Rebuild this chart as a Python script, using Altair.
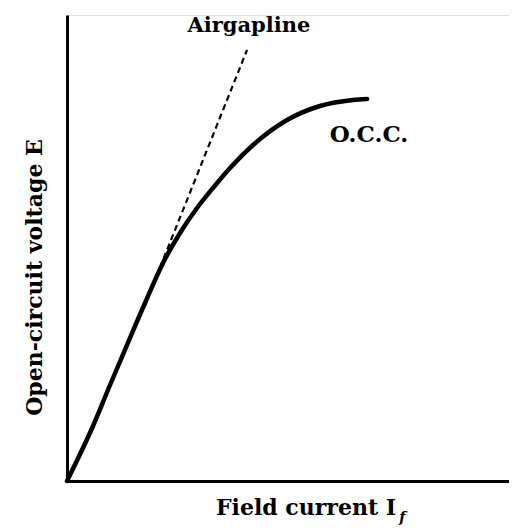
import altair as alt
import pandas as pd

# O.C.C. curve (field current vs open-circuit voltage, arbitrary units)
occ_x = [0, 5.78, 9.56, 13.33, 17.33, 21.33, 25.11, 28.89, 32.44, 36.22, 41.33, 48.89, 56.22, 63.56, 66.67]
occ_y = [0, 11.80, 20.60, 29.18, 38.20, 46.78, 53.22, 58.58, 62.88, 67.17, 72.10, 77.47, 80.47, 81.76, 81.97]

# Air-gap line (tangent to the initial part of the curve)
air_x = [17.33, 40.0]
air_y = [37.77, 92.49]

# Annotations
label_text = ["Airgapline", "O.C.C."]
label_x = [40.4, 58.4]
label_y = [96.35, 72.75]

occ = pd.DataFrame({"x": occ_x, "y": occ_y})
air = pd.DataFrame({"x": air_x, "y": air_y})
labels = pd.DataFrame({"t": label_text, "x": label_x, "y": label_y})
sub = pd.DataFrame({"t": ["f"], "x": [73.8], "y": [-7.9]})

FONT = "DejaVu Serif"

xs = alt.Scale(domain=[0, 98.2], nice=False, zero=False)
ys = alt.Scale(domain=[0, 100], nice=False, zero=False)

xaxis = alt.Axis(ticks=False, labels=False, grid=False, domainColor="black",
                 domainWidth=3, title="Field current I", titleFont=FONT,
                 titleFontSize=22, titleFontWeight="bold", titleColor="black",
                 titleX=238.5, titleY=33, titleBaseline="alphabetic", titleAlign="center")
yaxis = alt.Axis(ticks=False, labels=False, grid=False, domainColor="black",
                 domainWidth=3, title="Open-circuit voltage E", titleFont=FONT,
                 titleFontSize=22, titleFontWeight="bold", titleColor="black",
                 titleX=-26, titleY=262, titleAlign="center", titleBaseline="alphabetic",
                 titleAngle=270)

curve = alt.Chart(occ).mark_line(color="black", strokeWidth=4.5, interpolate="monotone",
                                 strokeCap="round").encode(
    x=alt.X("x:Q", scale=xs, axis=xaxis),
    y=alt.Y("y:Q", scale=ys, axis=yaxis),
)

airline = alt.Chart(air).mark_line(color="black", strokeWidth=2.2, strokeDash=[6, 4]).encode(
    x=alt.X("x:Q", scale=xs),
    y=alt.Y("y:Q", scale=ys),
)

lab1 = alt.Chart(labels.iloc[[0]]).mark_text(font=FONT, fontSize=21, fontWeight="bold",
                                              align="center", baseline="alphabetic",
                                              color="black").encode(
    x=alt.X("x:Q", scale=xs), y=alt.Y("y:Q", scale=ys), text="t:N")
lab2 = alt.Chart(labels.iloc[[1]]).mark_text(font=FONT, fontSize=23, fontWeight="bold",
                                              align="left", baseline="alphabetic",
                                              color="black").encode(
    x=alt.X("x:Q", scale=xs), y=alt.Y("y:Q", scale=ys), text="t:N")
subf = alt.Chart(sub).mark_text(font=FONT, fontSize=14, fontWeight="bold", fontStyle="italic",
                                align="left", baseline="middle", color="black",
                                clip=False).encode(
    x=alt.X("x:Q", scale=xs), y=alt.Y("y:Q", scale=ys), text="t:N")

chart = alt.layer(curve, airline, lab1, lab2, subf).properties(
    width=442, height=466,
    autosize=alt.AutoSizeParams(type="none"),
    padding={"left": 59, "top": 7, "right": 0, "bottom": 50},
).configure_view(stroke=None).configure(background="white")

chart.save("out.html", embed_options={"renderer": "svg", "actions": False})
